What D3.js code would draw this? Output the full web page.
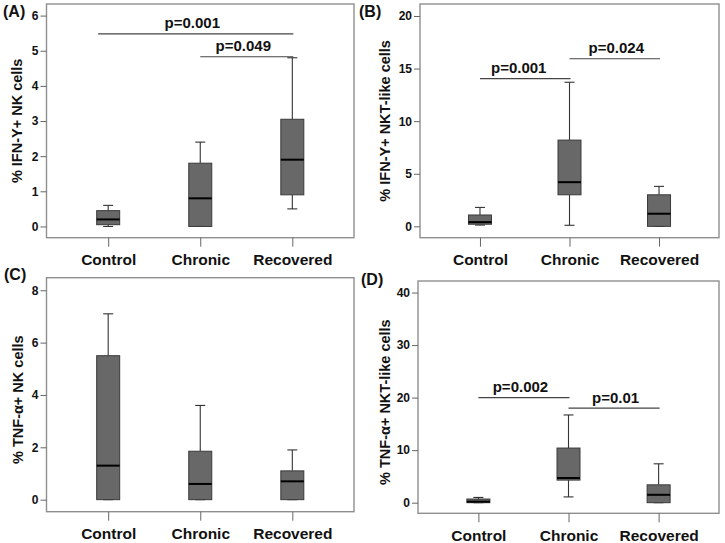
<!DOCTYPE html>
<html><head><meta charset="utf-8">
<script src="https://cdn.jsdelivr.net/npm/d3@7"></script>
<style>body{margin:0;background:#fff}svg{display:block}text{font-family:"Liberation Sans",Arial,sans-serif;font-weight:bold;fill:#111}</style>
</head><body><svg id="c" width="725" height="543"></svg>
<script>
// ---- data ----
const categories = ["Control", "Chronic", "Recovered"];
// [min, q1, median, q3, max] per category
const ifnNK   = [[0, 0.05, 0.2, 0.45, 0.6], [0, 0, 0.8, 1.8, 2.4], [0.5, 0.9, 1.9, 3.05, 4.8]];
const ifnNKT  = [[0.12, 0.2, 0.4, 1.08, 1.8], [0.1, 3.0, 4.2, 8.2, 13.7], [0, 0, 1.2, 3.0, 3.8]];
const tnfNK   = [[0, 0, 1.3, 5.5, 7.1], [0, 0, 0.6, 1.85, 3.6], [0, 0, 0.7, 1.1, 1.9]];
const tnfNKT  = [[0, 0, 0.2, 0.7, 1.0], [1.1, 4.3, 4.7, 10.4, 16.7], [0, 0, 1.5, 3.4, 7.4]];
const ticksA = [0, 1, 2, 3, 4, 5, 6];
const ticksB = [0, 5, 10, 15, 20];
const ticksC = [0, 2, 4, 6, 8];
const ticksD = [0, 10, 20, 30, 40];
const titles = ["% IFN-Y+ NK cells", "% IFN-Y+ NKT-like cells", "% TNF-\u03b1+ NK cells", "% TNF-\u03b1+ NKT-like cells"];
const panelLabels = ["(A)", "(B)", "(C)", "(D)"];
// significance: [fromIndex, toIndex, yValue, label]
const sigA = [[0, 2, 5.48, "p=0.001"], [1, 2, 4.83, "p=0.049"]];
const sigB = [[0, 1, 14.04, "p=0.001"], [1, 2, 15.94, "p=0.024"]];
const sigC = [];
const sigD = [[0, 1, 20.0, "p=0.002"], [1, 2, 18.0, "p=0.01"]];

// ---- layout ----
const panels = [
  {data: ifnNK,  ticks: ticksA, sig: sigA, domain: [-0.32, 6.33], x0: 46.5, x1: 354, y0: 4, y1: 237.7, titleX: 17, labX: 3, labY: 17, textDx: [-8, -3]},
  {data: ifnNKT, ticks: ticksB, sig: sigB, domain: [-1.08, 21.14], x0: 420, x1: 719, y0: 4, y1: 237.7, titleX: 385, labX: 359, labY: 17, textDx: [-6, 2]},
  {data: tnfNK,  ticks: ticksC, sig: sigC, domain: [-0.46, 8.48], x0: 46.5, x1: 354, y0: 277.7, y1: 511.7, titleX: 18, labX: 4, labY: 280, textDx: []},
  {data: tnfNKT, ticks: ticksD, sig: sigD, domain: [-2.02, 42.2], x0: 418, x1: 719, y0: 281, y1: 513.3, titleX: 385, labX: 361, labY: 285, textDx: [-3, 2]}
];

const svg = d3.select("#c");

panels.forEach((p, i) => {
  const g = svg.append("g");
  const x = d3.scalePoint().domain(categories).range([p.x0, p.x1]).padding(0.67);
  const y = d3.scaleLinear().domain(p.domain).range([p.y1, p.y0]);

  // frame
  g.append("rect").attr("x", p.x0).attr("y", p.y0)
    .attr("width", p.x1 - p.x0).attr("height", p.y1 - p.y0)
    .attr("fill", "none").attr("stroke", "#8f8f8f").attr("stroke-width", 1.4);

  // y axis
  const ya = g.append("g").attr("transform", `translate(${p.x0},0)`)
    .call(d3.axisLeft(y).tickValues(p.ticks).tickSize(6).tickPadding(2).tickFormat(d3.format("d")));
  ya.select(".domain").remove();
  ya.selectAll("line").attr("stroke", "#666");
  ya.selectAll("text").style("font-size", "12px").attr("fill", "#111");

  // x axis
  const xa = g.append("g").attr("transform", `translate(0,${p.y1})`)
    .call(d3.axisBottom(x).tickSize(9).tickPadding(4));
  xa.select(".domain").remove();
  xa.selectAll("line").attr("stroke", "#666");
  xa.selectAll("text").style("font-size", "15.5px").attr("fill", "#111").attr("dy", "0.95em");

  // title
  g.append("text").attr("transform", `translate(${p.titleX},${(p.y0 + p.y1) / 2 + (i >= 2 ? 5 : 0)}) rotate(-90)`)
    .attr("text-anchor", "middle").attr("dy", "0.35em").style("font-size", "14.5px").text(titles[i]);

  // panel label
  g.append("text").attr("x", p.labX).attr("y", p.labY).style("font-size", "16px").text(panelLabels[i]);

  // boxes
  const bw = 23, cw = 10;
  p.data.forEach((s, k) => {
    const cx = x(categories[k]);
    const [mn, q1, md, q3, mx] = s;
    const bg = g.append("g");
    // whiskers
    bg.append("line").attr("x1", cx).attr("x2", cx).attr("y1", y(q3)).attr("y2", y(mx)).attr("stroke", "#333").attr("stroke-width", 1.1);
    bg.append("line").attr("x1", cx).attr("x2", cx).attr("y1", y(q1)).attr("y2", y(mn)).attr("stroke", "#333").attr("stroke-width", 1.1);
    bg.append("line").attr("x1", cx - cw / 2).attr("x2", cx + cw / 2).attr("y1", y(mx)).attr("y2", y(mx)).attr("stroke", "#333").attr("stroke-width", 1.1);
    bg.append("line").attr("x1", cx - cw / 2).attr("x2", cx + cw / 2).attr("y1", y(mn)).attr("y2", y(mn)).attr("stroke", "#333").attr("stroke-width", 1.1);
    // box
    bg.append("rect").attr("x", cx - bw / 2).attr("width", bw)
      .attr("y", y(q3)).attr("height", Math.max(y(q1) - y(q3), 1))
      .attr("fill", "#686868").attr("stroke", "#3a3a3a").attr("stroke-width", 1);
    // median
    bg.append("line").attr("x1", cx - bw / 2).attr("x2", cx + bw / 2).attr("y1", y(md)).attr("y2", y(md)).attr("stroke", "#000").attr("stroke-width", 2);
  });

  // significance
  p.sig.forEach((s, k) => {
    const xa0 = x(categories[s[0]]), xa1 = x(categories[s[1]]);
    const yy = y(s[2]);
    g.append("line").attr("x1", xa0 - (s[0] === 0 && s[1] === 2 ? 10 : 0)).attr("x2", xa1 + 1)
      .attr("y1", yy).attr("y2", yy).attr("stroke", "#444").attr("stroke-width", 1.1);
    g.append("text").attr("x", (xa0 + xa1) / 2 + (p.textDx[k] || 0)).attr("y", yy - 5.5)
      .attr("text-anchor", "middle").style("font-size", "15px").text(s[3]);
  });
});
</script>
</body></html>
